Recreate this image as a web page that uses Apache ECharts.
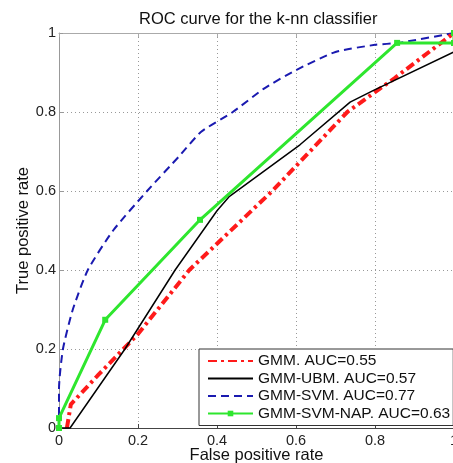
<!DOCTYPE html>
<html>
<head>
<meta charset="utf-8">
<script src="https://cdn.jsdelivr.net/npm/echarts@6/dist/echarts.min.js"></script>
<style>html,body{margin:0;padding:0;background:#fff}#c{width:453px;height:463px}</style>
</head>
<body>
<div id="c"></div>
<script>
var titleText = 'ROC curve for the k-nn classifier';
var xName = 'False positive rate';
var yName = 'True positive rate';
var seriesNames = ['GMM. AUC=0.55', 'GMM-UBM. AUC=0.57', 'GMM-SVM. AUC=0.77', 'GMM-SVM-NAP. AUC=0.63'];
var gmm = [[0.02,0],[0.03,0.06],[0.1,0.135],[0.2,0.238],[0.33,0.4],[0.54,0.6],[0.73,0.8],[0.85,0.886],[1,1]];
var gmmUbm = [[0,0],[0.028,0],[0.167,0.2],[0.294,0.4],[0.4,0.55],[0.43,0.585],[0.61,0.717],[0.737,0.825],[0.795,0.854],[1,0.952]];
var gmmSvm = [[0,0],[0,0.1],[0.01,0.2],[0.035,0.3],[0.073,0.4],[0.137,0.5],[0.223,0.6],[0.306,0.69],[0.36,0.75],[0.44,0.8],[0.52,0.86],[0.6,0.906],[0.7,0.952],[0.8,0.97],[0.86,0.975],[1,1]];
var gmmSvmNap = [[0,0],[0,0.025],[0.117,0.274],[0.357,0.527],[0.856,0.975],[1,0.975],[1,1]];

var font = 'Liberation Sans, Arial, sans-serif';
function fmt(v){ return String(Math.round(v*10)/10); }
var chart = echarts.init(document.getElementById('c'));
var colors = ['#ff1a1a', '#000', '#1a1ab0', '#2ee62e'];
chart.setOption({
  animation: false,
  title: { text: titleText, left: 134, top: 6, textStyle: { fontFamily: font, fontSize: 16.5, fontWeight: 'normal', color: '#111' } },
  grid: { left: 59, top: 33, right: -1, bottom: 35, containLabel: false, outerBoundsMode: 'none' },
  xAxis: [{
    type: 'value', min: 0, max: 1, interval: 0.2,
    name: xName, nameLocation: 'middle', nameGap: 19, nameMoveOverlap: false,
    nameTextStyle: { fontFamily: font, fontSize: 16.5, color: '#111' },
    axisLine: { show: true, lineStyle: { color: '#444', width: 1 } },
    axisTick: { show: true, inside: true, length: 4, lineStyle: { color: '#444' } },
    axisLabel: { fontFamily: font, fontSize: 14.5, color: '#222', margin: 5, formatter: fmt },
    splitLine: { show: true, lineStyle: { color: '#999', type: [1, 3], width: 1 } }
  }, {
    type: 'value', min: 0, max: 1, interval: 0.2, position: 'top',
    axisLine: { show: true, lineStyle: { color: '#aaa', width: 1 } },
    axisTick: { show: true, inside: true, length: 4, lineStyle: { color: '#aaa' } },
    axisLabel: { show: false }, splitLine: { show: false }
  }],
  yAxis: [{
    type: 'value', min: 0, max: 1, interval: 0.2,
    name: yName, nameLocation: 'middle', nameGap: 27, nameRotate: 90, nameMoveOverlap: false,
    nameTextStyle: { fontFamily: font, fontSize: 16.5, color: '#111' },
    axisLine: { show: true, lineStyle: { color: '#999', width: 1 } },
    axisTick: { show: true, inside: true, length: 4, lineStyle: { color: '#999' } },
    axisLabel: { fontFamily: font, fontSize: 14.5, color: '#222', margin: 3, formatter: fmt },
    splitLine: { show: true, lineStyle: { color: '#999', type: [1, 3], width: 1 } }
  }],
  legend: {
    orient: 'vertical', left: 199, top: 349,
    padding: [4, 3, 4, 8], itemGap: 1.5, itemWidth: 45, itemHeight: 7,
    backgroundColor: '#fff', borderColor: '#333', borderWidth: 1, borderRadius: 0,
    textStyle: { fontFamily: font, fontSize: 15.5, color: '#111' },
    data: [
      { name: seriesNames[0], itemStyle: { opacity: 0 } },
      { name: seriesNames[1], itemStyle: { opacity: 0 } },
      { name: seriesNames[2], itemStyle: { opacity: 0 } },
      { name: seriesNames[3] }
    ]
  },
  graphic: [{ type: 'text', left: 422, top: 384, style: { text: '.', fontSize: 13, fill: '#333' } }],
  series: [{
    name: seriesNames[0], type: 'line', data: gmm, showSymbol: false, symbol: 'none', clip: false,
    lineStyle: { color: colors[0], width: 4, type: [9, 4, 3, 4] }, itemStyle: { color: colors[0] }, z: 3
  }, {
    name: seriesNames[1], type: 'line', data: gmmUbm, showSymbol: false, symbol: 'none', clip: false,
    lineStyle: { color: colors[1], width: 1.5 }, itemStyle: { color: colors[1] }, z: 4
  }, {
    name: seriesNames[2], type: 'line', data: gmmSvm, showSymbol: false, symbol: 'none', clip: false, smooth: 0.2,
    lineStyle: { color: colors[2], width: 2, type: [8, 5] }, itemStyle: { color: colors[2] }, z: 2
  }, {
    name: seriesNames[3], type: 'line', data: gmmSvmNap, symbol: 'rect', symbolSize: 6, showSymbol: true, clip: false,
    lineStyle: { color: colors[3], width: 3 }, itemStyle: { color: colors[3] }, z: 5
  }]
});
</script>
</body>
</html>
